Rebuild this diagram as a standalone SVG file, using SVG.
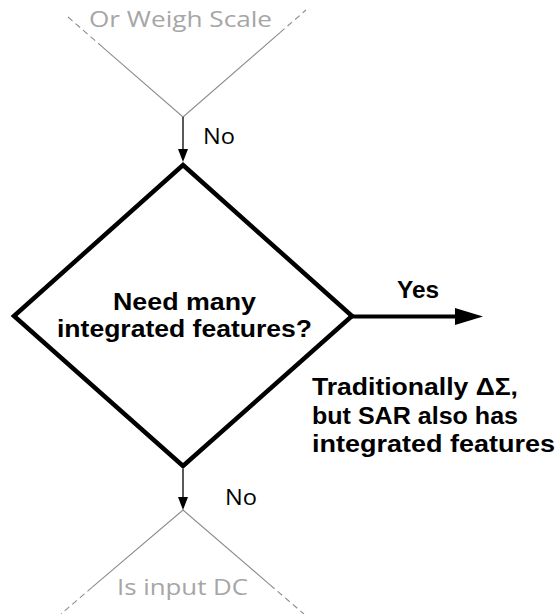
<svg xmlns="http://www.w3.org/2000/svg" width="558" height="614" viewBox="0 0 558 614">
<defs>
<style>
.gl{fill:none;stroke:#8c8c8c;stroke-width:1.1}
.gd{fill:none;stroke:#8c8c8c;stroke-width:1.1;stroke-dasharray:6 4}
.gt{font-family:"Open Sans","Liberation Sans",sans-serif;font-size:22px;fill:#a6a6a6}
.lb{font-family:"Open Sans","Liberation Sans",sans-serif;font-size:22px;fill:#000}
.bt{font-family:"Liberation Sans",Arial,sans-serif;font-size:23px;font-weight:bold;fill:#000}
.thin{fill:none;stroke:#000;stroke-width:1.3}
.thick{fill:none;stroke:#000;stroke-width:4}
.dia{fill:#fff;stroke:#000;stroke-width:4.5;stroke-linejoin:miter;stroke-miterlimit:10}
</style>
</defs>
<rect width="558" height="614" fill="#fff"/>
<g id="node-weigh-scale">
<path class="gd" d="M68,17 L102,46.6"/>
<path class="gl" d="M102,46.6 L183,117 L280,32.6"/>
<path class="gd" d="M280,32.6 L306,10"/>
<text class="gt" x="89" y="27" textLength="183" lengthAdjust="spacingAndGlyphs">Or Weigh Scale</text>
</g>
<g id="node-decision">
<polygon class="dia" points="183,165 352,316 183,466 14,316"/>
<text class="bt"><tspan x="113" y="310" textLength="143" lengthAdjust="spacingAndGlyphs">Need many</tspan><tspan x="57" y="337" textLength="255" lengthAdjust="spacingAndGlyphs">integrated features?</tspan></text>
</g>
<g id="node-input-dc">
<path class="gd" d="M92,587.4 L61,614"/>
<path class="gl" d="M92,587.4 L183,510 L270,584.8"/>
<path class="gd" d="M270,584.8 L304,614"/>
<text class="gt" x="117" y="595" textLength="131" lengthAdjust="spacingAndGlyphs">Is input DC</text>
</g>
<g id="connectors">
<line class="thin" x1="183" y1="117" x2="183" y2="150"/>
<polygon points="178,149 188,149 183,162" fill="#000"/>
<text class="lb" x="203" y="144" textLength="32" lengthAdjust="spacingAndGlyphs">No</text>
<line class="thin" x1="183" y1="469" x2="183" y2="498"/>
<polygon points="178,497 188,497 183,510" fill="#000"/>
<text class="lb" x="225" y="505" textLength="32" lengthAdjust="spacingAndGlyphs">No</text>
<line class="thick" x1="352" y1="316.5" x2="457" y2="316.5"/>
<polygon points="455,308 455,325 483,316.5" fill="#000"/>
<text class="bt" x="397" y="298" textLength="42" lengthAdjust="spacingAndGlyphs">Yes</text>
</g>
<g id="annotation">
<text class="bt"><tspan x="312" y="395" textLength="206" lengthAdjust="spacingAndGlyphs">Traditionally ΔΣ,</tspan><tspan x="312" y="424" textLength="206" lengthAdjust="spacingAndGlyphs">but SAR also has</tspan><tspan x="312" y="452" textLength="243" lengthAdjust="spacingAndGlyphs">integrated features</tspan></text>
</g>
</svg>
